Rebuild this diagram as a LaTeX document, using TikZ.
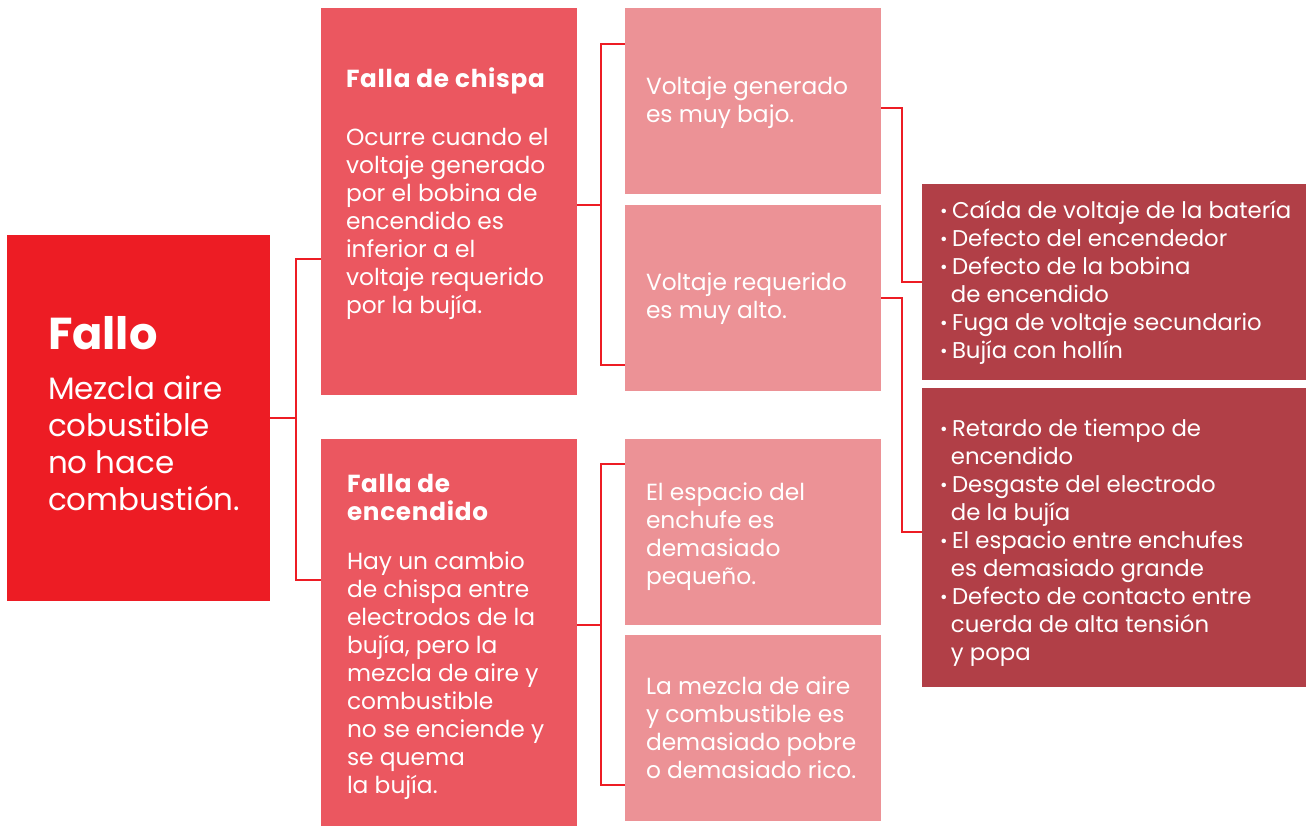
\documentclass[tikz,border=0pt]{standalone}
\usepackage{fontspec}
\setmainfont{Poppins}
\usetikzlibrary{calc}
\definecolor{falloRed}{HTML}{ED1C24}
\definecolor{midRed}{HTML}{EB5760}
\definecolor{lightRed}{HTML}{EC9296}
\definecolor{darkRed}{HTML}{B13F47}
\newcommand{\bul}{\makebox[9pt][l]{\raisebox{0.8pt}{\scalebox{0.8}{\textbullet}}}}
\newcommand{\sig}{\hspace*{8.2pt}}
\newcommand{\ttl}[1]{{\bfseries\addfontfeatures{LetterSpace=3}\fontsize{18.5}{21}\selectfont #1}}
\tikzset{
  box/.style={fill=#1, draw=none, inner sep=0pt},
  txt/.style={anchor=west, align=left, text=white, inner sep=0pt,
    font=\fontsize{17.5}{21}\selectfont},
  link/.style={draw=falloRed, line width=1.8pt},
}
\begin{document}
\begin{tikzpicture}[x=0.75pt, y=-0.75pt]
    \useasboundingbox (0,0) rectangle (1306,827);
    % Draw the boxes
    \node[box=falloRed, minimum width=197.25pt, minimum height=274.5pt] (fallo) at (138.5,418) {};
    \node[box=midRed, minimum width=192pt, minimum height=290.25pt] (chispa) at (449,201.5) {};
    \node[box=midRed, minimum width=192pt, minimum height=290.25pt] (encendido) at (449,632.5) {};
    \foreach \bx/\y in {gen/101, req/298, esp/532, mez/728} {
        \node[box=lightRed, minimum width=192pt, minimum height=139.5pt] (\bx) at (753,\y) {};
    }
    \node[box=darkRed, minimum width=288pt, minimum height=147pt] (causa1) at (1114,282) {};
    \node[box=darkRed, minimum width=288pt, minimum height=224.25pt] (causa2) at (1114,537.5) {};

    % Draw the texts
    \node[txt, font=\fontsize{23.2}{27.75}\selectfont] (fallo-t) at ($(fallo.west)+(41,-4)$)
        {{\fontsize{33.5}{38}\selectfont\bfseries Fallo}\\[9.75pt]
         Mezcla aire\\cobustible\\no hace\\combustión.};
    \node[txt] (chispa-t) at ($(chispa.west)+(25,-8)$)
        {\ttl{Falla de chispa}\\[22.5pt]
         Ocurre cuando el\\voltaje generado\\por el bobina de\\encendido es\\inferior a el\\voltaje requerido\\por la bujía.};
    \node[txt] (encendido-t) at ($(encendido.west)+(26,4)$)
        {\ttl{Falla de}\\\ttl{encendido}\\[15.75pt]
         Hay un cambio\\de chispa entre\\electrodos de la\\bujía, pero la\\mezcla de aire y\\combustible\\no se enciende y\\se quema\\la bujía.};
    \node[txt] (gen-t) at ($(gen.west)+(21,2)$) {Voltaje generado\\es muy bajo.};
    \node[txt] (req-t) at ($(req.west)+(21,1)$) {Voltaje requerido\\es muy alto.};
    \node[txt] (esp-t) at ($(esp.west)+(21,5)$) {El espacio del\\enchufe es\\demasiado\\pequeño.};
    \node[txt] (mez-t) at ($(mez.west)+(21,0)$) {La mezcla de aire\\y combustible es\\demasiado pobre\\o demasiado rico.};
    \node[txt, font=\fontsize{17.1}{21}\selectfont] (causa1-t) at ($(causa1.west)+(18,1)$)
        {\bul Caída de voltaje de la batería\\\bul Defecto del encendedor\\\bul Defecto de la bobina\\\sig de encendido\\\bul Fuga de voltaje secundario\\\bul Bujía con hollín};
    \node[txt, font=\fontsize{17.1}{21}\selectfont] (causa2-t) at ($(causa2.west)+(18,5.5)$)
        {\bul Retardo de tiempo de\\\sig encendido\\\bul Desgaste del electrodo\\\sig de la bujía\\\bul El espacio entre enchufes\\\sig es demasiado grande\\\bul Defecto de contacto entre\\\sig cuerda de alta tensión\\\sig y popa};

    % Draw the connections
    \draw[link] (fallo.east) -- ++(26,0) coordinate (j1);
    \draw[link] ($(chispa.west)+(0,57.5)$) -| (j1) |- ($(encendido.west)+(0,-52.5)$);
    \draw[link] ($(chispa.east)+(0,3.5)$) -- ++(24,0) coordinate (j2);
    \draw[link] ($(gen.west)+(0,-57)$) -| (j2) |- ($(req.west)+(0,67)$);
    \draw[link] ($(encendido.east)+(0,-7.5)$) -- ++(24,0) coordinate (j3);
    \draw[link] ($(esp.west)+(0,-68)$) -| (j3) |- ($(mez.west)+(0,57)$);
    \draw[link] ($(gen.east)+(0,7)$) -| ++(21,174) |- (causa1.west);
    \draw[link] (req.east) -| ++(21,234) |- ($(causa2.west)+(0,-5.5)$);
\end{tikzpicture}
\end{document}
